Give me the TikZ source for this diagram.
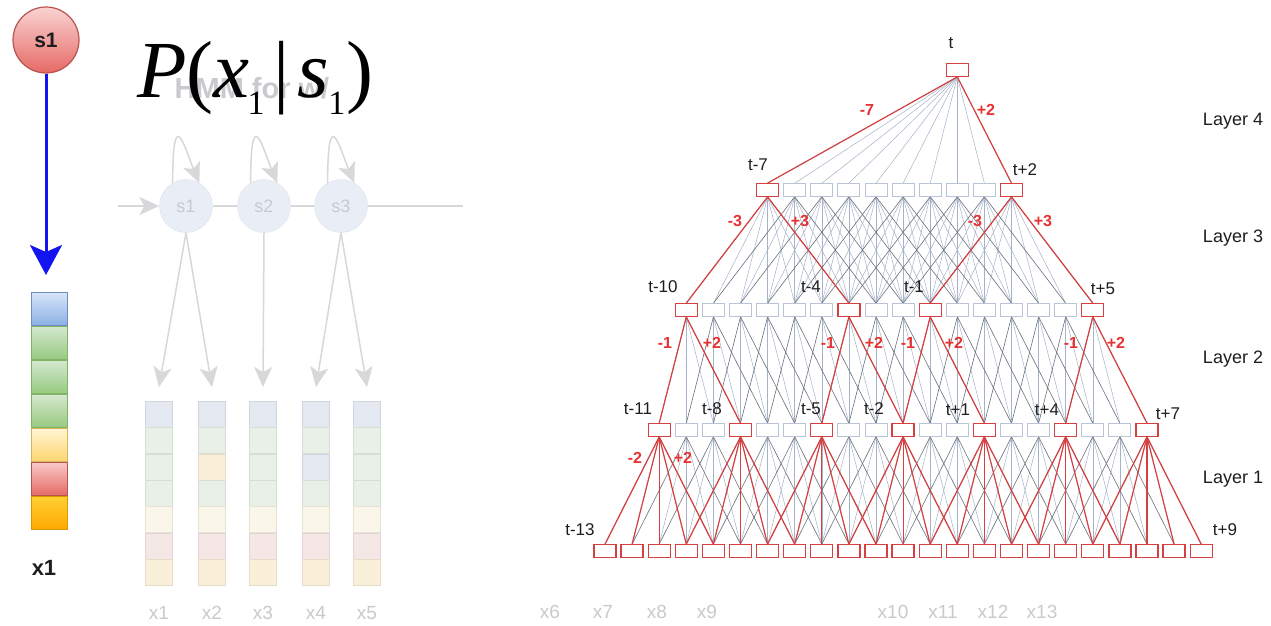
\documentclass[tikz,border=0pt]{standalone}
\usepackage{fontspec}
\setmainfont{Liberation Sans}
\newfontfamily\timesf{Liberation Serif}
\usetikzlibrary{arrows.meta,positioning,backgrounds,calc}
\definecolor{ink}{RGB}{30,30,32}
\definecolor{tdred}{RGB}{214,64,64}
\definecolor{wred}{RGB}{232,50,50}
\definecolor{edgelt}{RGB}{165,178,200}
\definecolor{edgedk}{RGB}{105,111,122}
\definecolor{cellgray}{RGB}{186,196,214}
\definecolor{eblue}{RGB}{20,20,240}
% feature vector palette: light / dark / border
\definecolor{bluel}{RGB}{214,228,250}\definecolor{blued}{RGB}{140,176,228}\definecolor{blueb}{RGB}{108,142,191}
\definecolor{greenl}{RGB}{212,232,206}\definecolor{greend}{RGB}{150,202,128}\definecolor{greenb}{RGB}{130,179,102}
\definecolor{yellowl}{RGB}{255,244,212}\definecolor{yellowd}{RGB}{255,214,110}\definecolor{yellowb}{RGB}{214,182,86}
\definecolor{redl}{RGB}{248,200,198}\definecolor{redd}{RGB}{230,106,102}\definecolor{redb}{RGB}{184,84,80}
\definecolor{orangel}{RGB}{255,208,50}\definecolor{oranged}{RGB}{255,168,0}\definecolor{orangeb}{RGB}{215,155,0}
% faded hmm slide
\definecolor{ghline}{RGB}{216,216,218}
\definecolor{ghtext}{RGB}{200,202,206}
\definecolor{ghstate}{RGB}{233,237,245}
\definecolor{gb}{RGB}{228,232,241}
\definecolor{gg}{RGB}{232,240,232}
\definecolor{gy}{RGB}{250,246,233}
\definecolor{gr}{RGB}{246,231,231}
\definecolor{go}{RGB}{250,240,217}
\newcommand\lowsub[1]{\raisebox{-17pt}{\fontsize{34}{34}\selectfont #1}}
\tikzset{
  % tdnn graph
  cell/.style={draw=#1,fill=white,line width=1pt,minimum width=22pt,minimum height=12.5pt,inner sep=0pt},
  cell/.default=cellgray,
  cellred/.style={cell=tdred,line width=1.3pt},
  ctx/.style={draw=edgelt,line width=0.5pt},
  ctxd/.style={draw=edgedk,line width=0.6pt},
  hit/.style={draw=tdred,line width=1.2pt,line join=round},
  tlab/.style={font=\fontsize{17}{17}\selectfont,text=ink,inner sep=0pt},
  wlab/.style={font=\fontsize{16}{16}\selectfont\bfseries,text=wred,inner sep=0pt},
  lyr/.style={font=\fontsize{18}{18}\selectfont,text=ink,inner sep=0pt},
  % state and feature vector
  sstate/.style={circle,draw=redb,line width=1.2pt,top color=redl!80!white,bottom color=redd,
    minimum size=66pt,inner sep=0pt,font=\fontsize{21}{21}\selectfont\bfseries,text=ink},
  feat/.style={draw=#1b,top color=#1l,bottom color=#1d,line width=1.2pt,minimum width=36pt,
    minimum height=33pt,inner sep=0pt,anchor=north},
  emit/.style={draw=eblue,line width=3pt,-{Stealth[length=30pt,width=32pt,inset=7pt]}},
  % faded hmm
  ghost/.style={draw=ghline,line width=1.5pt},
  ghostarr/.style={ghost,-{Stealth[length=20pt,width=18pt,inset=5pt]}},
  gstate/.style={circle,fill=ghstate,draw=ghstate!90!gray,minimum size=53pt,inner sep=0pt,
    text=ghtext,font=\fontsize{18}{18}\selectfont},
  gcell/.style={draw=#1!92!black,fill=#1,line width=0.6pt,minimum width=27pt,minimum height=26pt,
    inner sep=0pt,anchor=north},
  glab/.style={text=ghtext,font=\fontsize{19}{19}\selectfont,inner sep=0pt},
}

\begin{document}
\begin{tikzpicture}[x=1pt,y=-1pt]
  \useasboundingbox (0,0) rectangle (1271,625);

  % faded hmm slide underneath
  \node[font=\fontsize{29}{29}\selectfont\bfseries,text=ghtext,inner sep=0pt] (hmmtitle) at (252,88) {HMM for w/};
  \foreach \xc/\nm in {186/1,264/2,341/3}
    \node[gstate] (g\nm) at (\xc,206) {s\nm};
  \coordinate (hin) at (118,206);
  \coordinate (hout) at (463,206);
  \draw[ghostarr] (hin) -- (g1);
  \draw[ghost] (g1) -- (g2) (g2) -- (g3) (g3) -- (hout);
  \foreach \nm in {1,2,3}
    \draw[ghostarr] (g\nm.120) .. controls +(0,-83) and +(-14,-33) .. (g\nm.60);
  \foreach \xc/\nm/\cols in {159/1/{gb,gg,gg,gg,gy,gr,go},212/2/{gb,gg,go,gg,gy,gr,go},
      263/3/{gb,gg,gg,gg,gy,gr,go},316/4/{gb,gg,gb,gg,gy,gr,go},367/5/{gb,gg,gg,gg,gy,gr,go}}{
    \foreach \c [count=\i from 0] in \cols
      \node[gcell=\c] (o\nm-\i) at (\xc,{401+26.3*\i}) {};
    \node[glab] (ol\nm) at (\xc,613) {x\nm};
  }
  \foreach \s/\o in {1/1,1/2,2/3,3/4,3/5}
    \draw[ghostarr] (g\s.south) -- ($(o\o-0.north)+(0,-14)$);
  \foreach \xc/\nm in {550/6,603/7,657/8,707/9,893/10,943/11,993/12,1042/13}
    \node[glab] (ol\nm) at (\xc,612) {x\nm};

  % likelihood
  \node[anchor=base west,inner sep=0pt,font=\timesf\fontsize{81}{81}\selectfont] (lik) at (137,97)
    {\textit{P}(\textit{x}\kern-2pt\lowsub{1}\hspace{9pt}|\hspace{8pt}\textit{s}\kern-1pt\lowsub{1}\hspace{1pt})};

  % state emitting a frame
  \node[sstate] (sone) at (46,40) {s1};
  \foreach \c [count=\i from 0] in {blue,green,green,green,yellow,red,orange}
    \node[feat=\c] (f\i) at (49.5,{292+34*\i}) {};
  \coordinate (ftip) at (46,275);
  \draw[emit] (sone) -- (ftip);
  \node[font=\fontsize{22}{22}\selectfont\bfseries,text=ink,inner sep=0pt] (fname) at (44,568) {x1};

  % tdnn: input frames t-13 .. t+9
  \foreach \k in {0,...,22}
    \node[cellred] (in\k) at ({605+27.1*\k},551) {};
  % layer 1
  \foreach \k in {3,4,6,7,9,10,12,13,15,16,18,19}
    \node[cell] (la\k) at ({605+27.1*\k},430) {};
  \foreach \k in {2,5,...,20}
    \node[cellred] (la\k) at ({605+27.1*\k},430) {};
  % layer 2
  \foreach \k in {4,5,6,7,8,10,11,13,14,15,16,17}
    \node[cell] (lb\k) at ({605+27.1*\k},310) {};
  \foreach \k in {3,9,12,18}
    \node[cellred] (lb\k) at ({605+27.1*\k},310) {};
  % layer 3
  \foreach \k in {7,...,14}
    \node[cell] (lc\k) at ({605+27.1*\k},190) {};
  \foreach \k in {6,15}
    \node[cellred] (lc\k) at ({605+27.1*\k},190) {};
  % layer 4
  \node[cellred] (ld13) at ({605+27.1*13},70) {};

  \begin{scope}[on background layer]
    \fill[white] (0,0) rectangle (1271,625);
    % full context, light
    \foreach \j in {6,...,15}
      \draw[ctx] (ld13.south) -- (lc\j.north);
    \foreach \j in {6,...,15}
      \foreach \d in {-2,...,2}{
        \pgfmathtruncatemacro\m{\j+\d}
        \draw[ctx] (lc\j.south) -- (lb\m.north);
      }
    \foreach \j in {3,...,18}
      \foreach \d in {0,1}{
        \pgfmathtruncatemacro\m{\j+\d}
        \draw[ctx] (lb\j.south) -- (la\m.north);
      }
    \foreach \j in {2,...,20}
      \foreach \d in {-1,0,1}{
        \pgfmathtruncatemacro\m{\j+\d}
        \draw[ctx] (la\j.south) -- (in\m.north);
      }
    % sub-sampled splices, dark
    \foreach \j in {6,...,15}{
      \pgfmathtruncatemacro\a{\j-3}\pgfmathtruncatemacro\b{\j+3}
      \draw[ctxd] (lb\a.north) -- (lc\j.south) -- (lb\b.north);
    }
    \foreach \j in {3,...,18}{
      \pgfmathtruncatemacro\a{\j-1}\pgfmathtruncatemacro\b{\j+2}
      \draw[ctxd] (la\a.north) -- (lb\j.south) -- (la\b.north);
    }
    \foreach \j in {2,...,20}{
      \pgfmathtruncatemacro\a{\j-2}\pgfmathtruncatemacro\b{\j+2}
      \draw[ctxd] (in\a.north) -- (la\j.south) -- (in\b.north);
    }
    % units needed for output t
    \draw[hit] (lc6.north) -- (ld13.south) -- (lc15.north);
    \foreach \j in {6,15}{
      \pgfmathtruncatemacro\a{\j-3}\pgfmathtruncatemacro\b{\j+3}
      \draw[hit] (lb\a.north) -- (lc\j.south) -- (lb\b.north);
    }
    \foreach \j in {3,9,12,18}{
      \pgfmathtruncatemacro\a{\j-1}\pgfmathtruncatemacro\b{\j+2}
      \draw[hit] (la\a.north) -- (lb\j.south) -- (la\b.north);
    }
    \foreach \j in {2,5,...,20}
      \foreach \d in {-2,...,2}{
        \pgfmathtruncatemacro\m{\j+\d}
        \draw[hit] (la\j.south) -- (in\m.north);
      }
  \end{scope}

  % time labels
  \foreach \xc/\yc/\nm/\txt in {951/43/p0/t,758/165/m7/t-7,1025/170/p2/t+2,
      663/287/m10/t-10,811/287/m4/t-4,914/287/m1/t-1,1103/289/p5/t+5,
      638/409/m11/t-11,712/409/m8/t-8,811/409/m5/t-5,874/409/m2/t-2,
      958/410/p1/t+1,1047/410/p4/t+4,1168/414/p7/t+7,580/530/m13/t-13,1225/530/p9/t+9}
    \node[tlab] (lab\nm) at (\xc,\yc) {\txt};
  % splice offsets
  \foreach \xc/\yc/\nm/\txt in {867/110/a/-7,986/110/b/+2,735/221/c/-3,800/221/d/+3,
      975/221/e/-3,1043/221/f/+3,665/343/g/-1,712/343/h/+2,828/343/i/-1,874/343/j/+2,
      908/343/k/-1,954/343/l/+2,1071/343/m/-1,1116/343/n/+2,635/458/o/-2,683/458/p/+2}
    \node[wlab] (w\nm) at (\xc,\yc) {\txt};
  % layer names
  \foreach \yc/\n in {121/4,238/3,359/2,479/1}
    \node[lyr] (layer\n) at (1233,\yc) {Layer \n};
\end{tikzpicture}
\end{document}
